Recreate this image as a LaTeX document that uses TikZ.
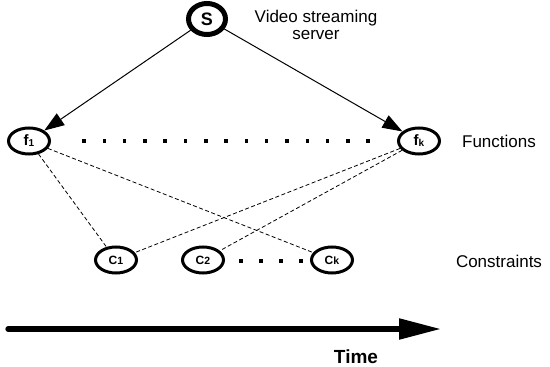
\documentclass[tikz,border=0pt]{standalone}
\usepackage{fontspec}
\setmainfont{Liberation Sans}
\usetikzlibrary{shapes.geometric,arrows.meta}
\newcommand{\fsub}[2]{{\bfseries\fontsize{15}{15}\selectfont #1}{\bfseries\fontsize{10}{10}\selectfont\raisebox{-1pt}{#2}}}
\newcommand{\csub}[2]{{\bfseries\fontsize{12}{12}\selectfont #1}{\bfseries\fontsize{10.5}{10.5}\selectfont #2}}
\begin{document}
\begin{tikzpicture}[x=1pt,y=-1pt,
  nd/.style={ellipse,draw,line width=3pt,inner sep=0pt,minimum width=41pt,minimum height=26pt},
  srv/.style={ellipse,draw,line width=5pt,inner sep=0pt,minimum width=37pt,minimum height=31pt,font=\bfseries\fontsize{18}{18}\selectfont},
  lbl/.style={font=\fontsize{17}{17.5}\selectfont,align=center},
  dashline/.style={dash pattern=on 4pt off 2.5pt,line width=0.8pt},
  arr/.style={line width=1pt,-{Triangle[length=20pt,width=14pt]}},
  dot/.style={fill=black,minimum size=3.5pt,inner sep=0pt}]
\useasboundingbox (0,0) rectangle (550,367);
% nodes
\node[srv] (S) at (207,19) {S};
\node[lbl] (vs) at (316,25) {Video streaming\\server};
\node[nd] (f1) at (29,141) {\fsub{f}{1}};
\node[nd] (fk) at (419,141) {\fsub{f}{k}};
\node[lbl] (fun) at (499,141) {Functions};
\node[nd] (c1) at (116,260) {\csub{C}{1}};
\node[nd] (c2) at (203,260) {\csub{C}{2}};
\node[nd] (ck) at (332,260) {\csub{C}{k}};
\node[lbl] (con) at (499,261) {Constraints};
% dots
\foreach \i in {0,...,14} {\node[dot] (fd\i) at (84+20.3*\i,141) {};}
\foreach \i in {0,...,3} {\node[dot] (cd\i) at (241+20*\i,261) {};}
% arrows
\draw[arr] (S) -- (f1);
\draw[arr] (S) -- (fk);
% dashed
\draw[dashline] (f1) -- (c1);
\draw[dashline] (f1) -- (ck);
\draw[dashline] (fk) -- (c1);
\draw[dashline] (fk) -- (c2);
% time
\coordinate (t0) at (8,329);
\coordinate (t1) at (441,329);
\draw[line width=5.3pt,line cap=round,-{Triangle[length=42pt,width=20pt]}] (t0) -- (t1);
\node[font=\bfseries\fontsize{19}{19}\selectfont] (time) at (356,357) {Time};
\end{tikzpicture}
\end{document}
